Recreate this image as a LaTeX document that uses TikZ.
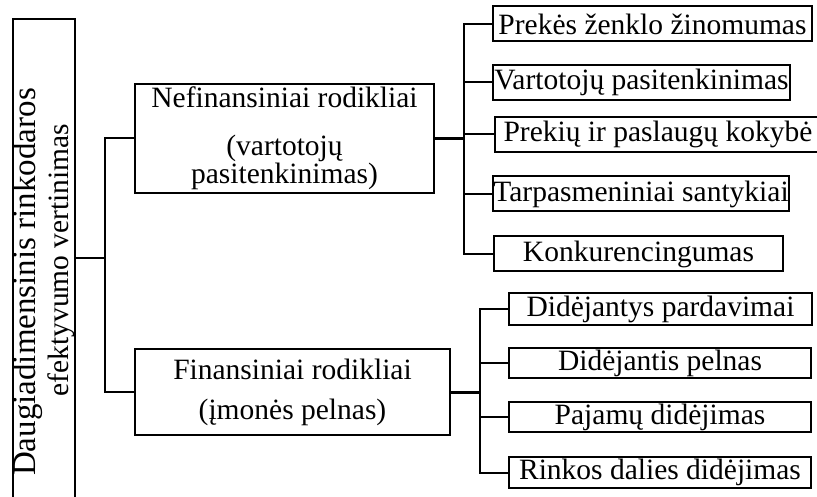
\documentclass[tikz,border=0pt]{standalone}
\usepackage{fontspec}
\setmainfont{Liberation Serif}
\usepackage{tikz}
\usetikzlibrary{positioning}
\tikzset{
    mybox/.style = {rectangle, draw=black, line width=2pt, inner sep=0pt, align=center, font=\fontsize{29.5}{24}\selectfont},
    rbox/.style = {mybox, minimum height=35pt},
    rootbox/.style = {rectangle, draw=black, line width=2pt, minimum width=62pt, minimum height=520pt},
}

\begin{document}
\begin{tikzpicture}[
	x=1pt, y=-1pt,
	line join=miter
]
\tikzset{
    edgen/.style = {-,line width=2pt},
    edgeb/.style = {-,line width=3pt},
}
\useasboundingbox (0,0) rectangle (817,497);
\clip (0,0) rectangle (817,497);
\node[rootbox] at (44,279) (root) {};
\node[rotate=90, align=center, font=\fontsize{31}{33}\selectfont] at (43.5,282) (roottext)
	{{\fontsize{33}{33}\selectfont Daugiadimensinis rinkodaros}\\{\fontsize{29.5}{33}\selectfont\hspace*{44pt}efektyvumo vertinimas}};
%
\node[mybox, minimum width=299pt, minimum height=109pt] at (284.5,138.5) (nef) {Nefinansiniai rodikliai\\[24pt](vartotojų\\pasitenkinimas)};
\node[mybox, minimum width=315pt, minimum height=86pt] at (292.5,392) (fin) {Finansiniai rodikliai\\[16pt](įmonės pelnas)};
%
\node[rbox, minimum width=319pt] at (652.5,24) (n1) {Prekės ženklo žinomumas};
\node[rbox, minimum width=297pt] at (641.5,82.5) (n2) {Vartotojų pasitenkinimas};
\node[rbox, minimum width=326pt] at (658,134.5) (n3) {Prekių ir paslaugų kokybė};
\node[rbox, minimum width=296pt] at (641,194) (n4) {Tarpasmeniniai santykiai};
\node[rbox, minimum width=289pt] at (638.5,254) (n5) {Konkurencingumas};
%
\node[rbox, minimum width=303pt, minimum height=32pt] at (660.5,309) (f1) {Didėjantys pardavimai};
\node[rbox, minimum width=302pt, minimum height=30pt] at (660,363) (f2) {Didėjantis pelnas};
\node[rbox, minimum width=302pt, minimum height=30pt] at (660,417) (f3) {Pajamų didėjimas};
\node[rbox, minimum width=302pt, minimum height=31pt] at (660,472.5) (f4) {Rinkos dalies didėjimas};
%
\coordinate (tl) at (105,258);
\coordinate (tn) at (464,138.5);
\coordinate (tf) at (480,392);
\draw[edgen] (tl -| root.east) -- (tl);
\draw[edgen] (nef.west) -| (tl) |- (fin.west);
%
\draw[edgeb] (nef.east) -- (tn);
\foreach \n in {n1,n2,n3,n4,n5}
	\draw[edgen] (tn) |- (\n.west);
%
\draw[edgeb] (fin.east) -- (tf);
\foreach \n in {f1,f2,f3,f4}
	\draw[edgen] (tf) |- (\n.west);
\end{tikzpicture}
\end{document}
